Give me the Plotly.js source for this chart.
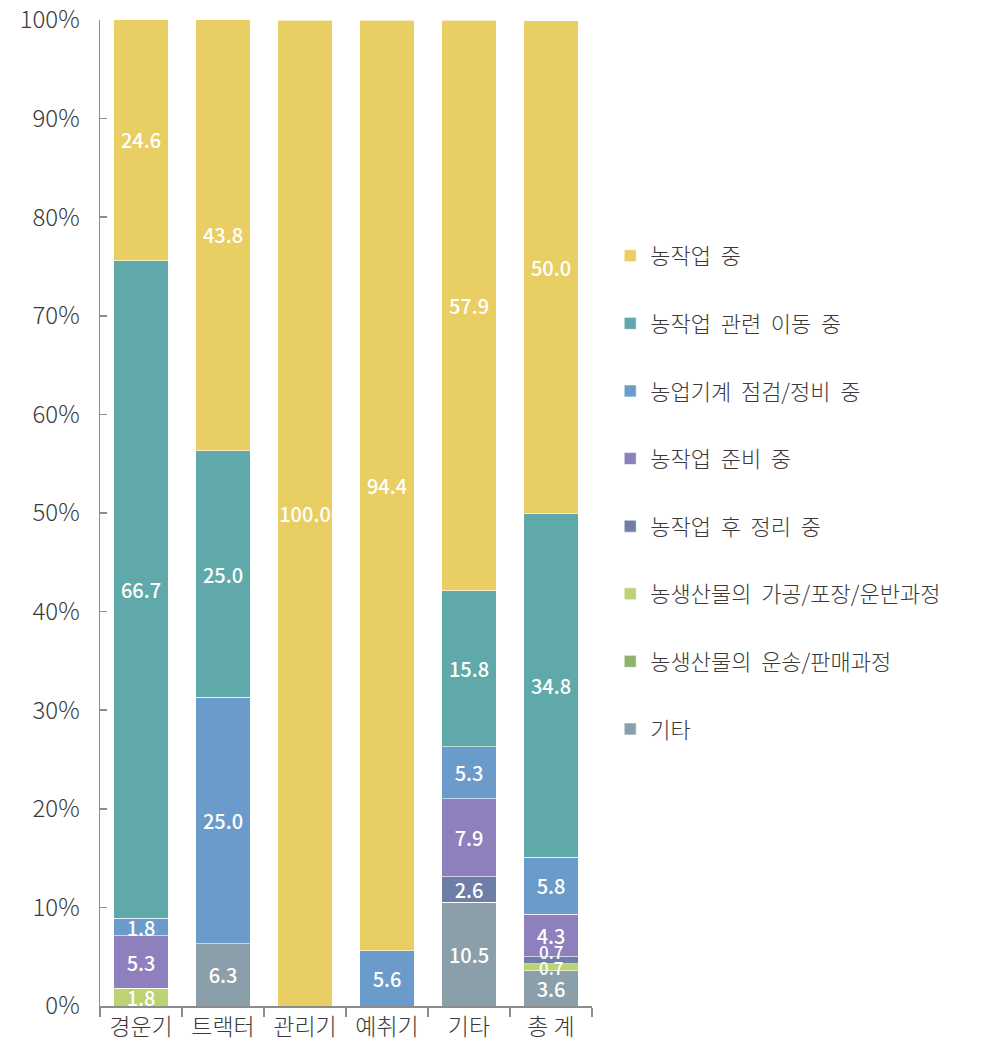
<!DOCTYPE html>
<html><head><meta charset="utf-8">
<script src="https://cdn.plot.ly/plotly-3.0.1.min.js"></script>
<style>html,body{margin:0;padding:0;background:#fff}#chart{width:985px;height:1053px}</style>
</head><body><div id="chart"></div>
<script>
const categories = ['경운기','트랙터','관리기','예취기','기타','총 계'];
// series listed bottom to top of the stack
const seriesNames = ['기타','농생산물의  운송/판매과정','농생산물의  가공/포장/운반과정','농작업  후  정리  중','농작업  준비  중','농업기계  점검/정비  중','농작업  관련  이동  중','농작업  중'];
const etc        = [0, 6.3, 0, 0, 10.5, 3.6];
const transport  = [0, 0, 0, 0, 0, 0];
const processing = [1.8, 0, 0, 0, 0, 0.7];
const cleanup    = [0, 0, 0, 0, 2.6, 0.7];
const prep       = [5.3, 0, 0, 0, 7.9, 4.3];
const repair     = [1.8, 25.0, 0, 5.6, 5.3, 5.8];
const moving     = [66.7, 25.0, 0, 0, 15.8, 34.8];
const farming    = [24.6, 43.8, 100.0, 94.4, 57.9, 50.0];
const seriesValues = [etc, transport, processing, cleanup, prep, repair, moving, farming];
const colors = ['#8A9FA9','#8DB46A','#BDD272','#6E7EA7','#8E80BC','#6A9BCA','#5FA9AB','#E9CE63'];
const fontFam = '"Noto Sans CJK KR", "Noto Sans", sans-serif';
const SMALL = 1.0; // segments thinner than this get their label as a nudged annotation

const traces = seriesNames.map((name, i) => ({
  type: 'bar',
  name: name,
  x: categories,
  y: seriesValues[i],
  text: seriesValues[i].map(v => v >= SMALL ? v.toFixed(1) : ''),
  textposition: 'inside',
  insidetextanchor: 'middle',
  textangle: 0,
  constraintext: 'none',
  textfont: {color: '#ffffff', size: 20, family: fontFam, weight: 500},
  marker: {color: colors[i], line: {color: 'rgba(255,255,255,0.6)', width: 1}},
  legendgroup: 'g' + i,
  legendrank: 100 - i * 10,
  hoverinfo: 'x+y+name'
}));

// labels for very thin segments, placed around the segments' middle and spread apart
const annotations = [];
categories.forEach((cat, c) => {
  let base = 0;
  const small = [];
  seriesValues.forEach((vals) => {
    const v = vals[c];
    if (v > 0 && v < SMALL) small.push({mid: base + v / 2, v: v});
    base += v;
  });
  if (!small.length) return;
  const center = small.reduce((a, s) => a + s.mid, 0) / small.length;
  small.forEach((s, k) => {
    const shift = (k - (small.length - 1) / 2) * 16 + 4;
    annotations.push({
      x: cat, y: center, xref: 'x', yref: 'y',
      text: s.v.toFixed(1), showarrow: false, yshift: shift,
      font: {color: '#ffffff', size: 17, family: fontFam, weight: 500}
    });
  });
});

const layout = {
  width: 985, height: 1053,
  margin: {l: 100, r: 393, t: 20, b: 47},
  barmode: 'stack',
  bargap: 0.33,
  paper_bgcolor: '#fff', plot_bgcolor: '#fff',
  font: {family: fontFam, color: '#444'},
  uniformtext: {minsize: 20, mode: 'show'},
  showlegend: true,
  annotations: annotations,
  legend: {
    x: 1.037, y: 0.782, xanchor: 'left', yanchor: 'top',
    traceorder: 'grouped',
    tracegroupgap: 36,
    font: {size: 22, color: '#3a3a3a', family: fontFam, weight: 300},
    itemwidth: 30
  },
  xaxis: {
    type: 'category',
    showline: true, linecolor: '#8c8c8c', linewidth: 1.5,
    ticks: 'outside', tickson: 'boundaries', ticklen: 9, tickcolor: '#8c8c8c', tickwidth: 1.5,
    tickfont: {size: 23, color: '#3a3a3a', family: fontFam, weight: 300},
    showgrid: false, zeroline: false
  },
  yaxis: {
    range: [0, 100], dtick: 10, ticksuffix: '%',
    showline: true, linecolor: '#8c8c8c', linewidth: 1.5,
    ticks: 'inside', ticklen: 7, tickcolor: '#8c8c8c', tickwidth: 1.5,
    ticklabelstandoff: 14,
    tickfont: {size: 24, color: '#3a3a3a', family: fontFam, weight: 300},
    showgrid: false, zeroline: false
  }
};
Plotly.newPlot('chart', traces, layout, {displayModeBar: false, staticPlot: true});
</script></body></html>
